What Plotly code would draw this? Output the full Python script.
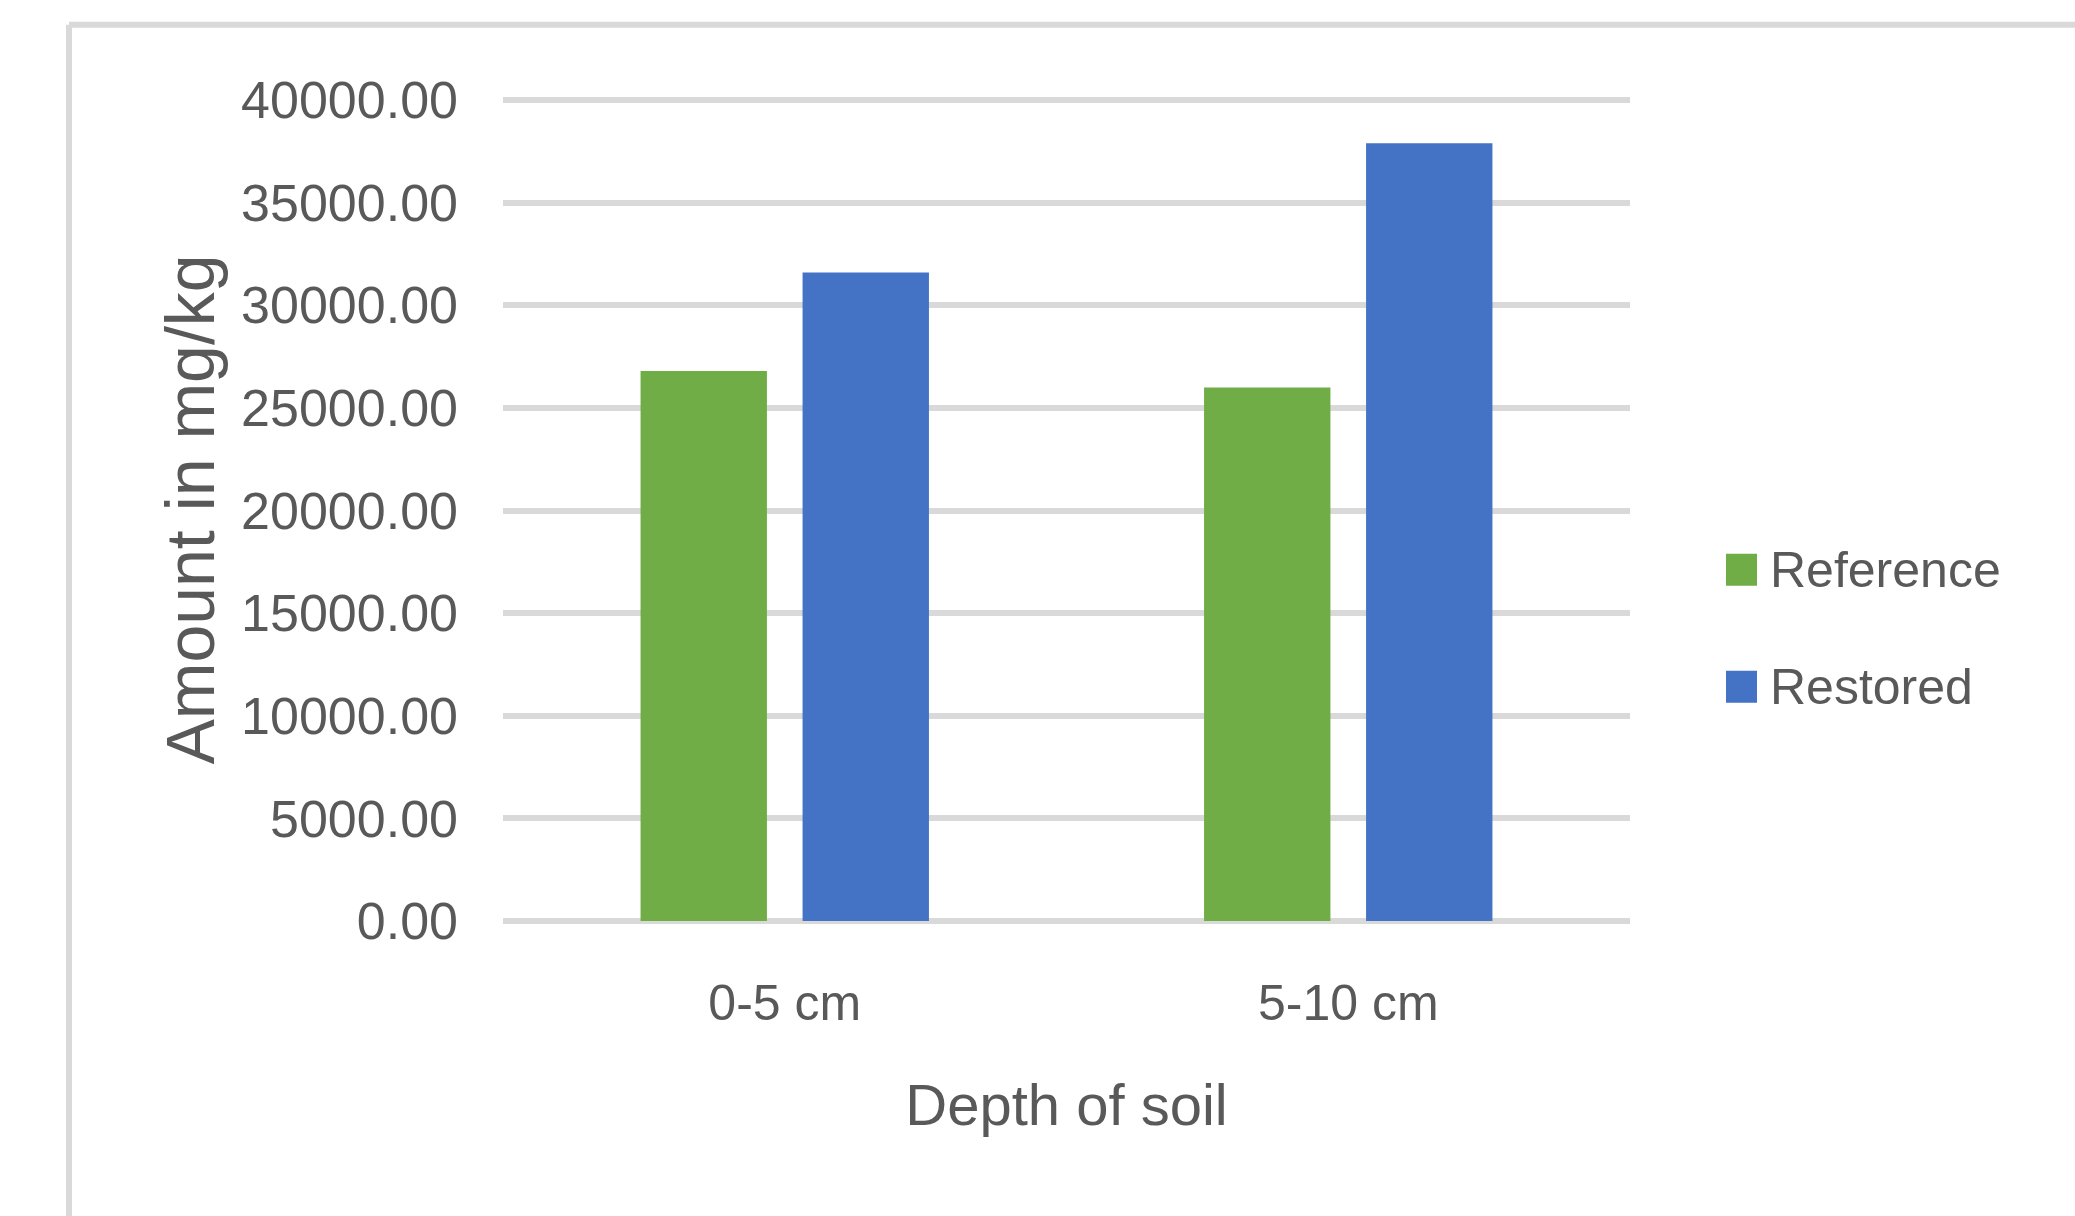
import plotly.graph_objects as go

# Soil depth classes and measured amounts (mg/kg)
depths = ["0-5 cm", "5-10 cm"]
series_names = ["Reference", "Restored"]
reference_vals = [26800, 26000]
restored_vals = [31600, 37900]
y_ticks = [0, 5000, 10000, 15000, 20000, 25000, 30000, 35000, 40000]

colors = ["#70AD47", "#4472C4"]
text_color = "#595959"
grid_color = "#D9D9D9"
font_family = "Liberation Sans Narrow, Arial Narrow, Liberation Sans, sans-serif"

W, H = 2075, 1216
# plot area in pixels (top padded slightly so the 40000 gridline is drawn)
PL, PR, PT, PB = 503, 1630, 97.9, 921.5
Y_TOP = 40100


def px_x(p):
    return (p - PL) / (PR - PL)


def px_y(p):
    return (PB - p) / (PB - PT)


fig = go.Figure()
for name, vals, col in zip(series_names, [reference_vals, restored_vals], colors):
    fig.add_trace(go.Bar(x=depths, y=vals, name=name, marker=dict(color=col, line=dict(width=0)),
                         showlegend=False))

# outer chart frame (top and left edges visible)
shapes = [
    dict(type="line", xref="paper", yref="paper", x0=px_x(69), x1=px_x(2080), y0=px_y(24.5), y1=px_y(24.5),
         line=dict(color=grid_color, width=6), layer="below"),
    dict(type="line", xref="paper", yref="paper", x0=px_x(69), x1=px_x(69), y0=px_y(24.5), y1=px_y(1225),
         line=dict(color=grid_color, width=6), layer="below"),
]

# legend drawn as square swatches with labels
annotations = []
legend_rows = [570, 687]
for name, col, cy in zip(series_names, colors, legend_rows):
    shapes.append(dict(type="rect", xref="paper", yref="paper",
                       x0=px_x(1726), x1=px_x(1757), y0=px_y(cy - 16), y1=px_y(cy + 16),
                       fillcolor=col, line=dict(width=0)))
    annotations.append(dict(text=name, xref="paper", yref="paper", x=px_x(1768), y=px_y(cy),
                            xanchor="left", yanchor="middle", showarrow=False,
                            font=dict(size=50, color=text_color, family=font_family)))

fig.update_layout(
    width=W, height=H,
    margin=dict(l=PL, r=W - PR, t=PT, b=H - PB, autoexpand=False),
    paper_bgcolor="white", plot_bgcolor="white",
    barmode="group", bargap=0.425, bargroupgap=0.22,
    font=dict(family=font_family, color=text_color),
    shapes=shapes, annotations=annotations,
    xaxis=dict(
        title=dict(text="Depth of soil", font=dict(size=58, color=text_color), standoff=54),
        tickfont=dict(size=50, color=text_color),
        showgrid=False, showline=False, ticks="", ticklabelstandoff=48, automargin=False,
    ),
    yaxis=dict(
        title=dict(text="Amount in mg/kg", font=dict(size=68, color=text_color), standoff=4),
        range=[0, Y_TOP], tickvals=y_ticks, tickformat=".2f",
        tickfont=dict(size=52, color=text_color),
        showgrid=True, gridcolor=grid_color, gridwidth=6,
        zeroline=True, zerolinecolor=grid_color, zerolinewidth=6,
        showline=False, ticks="", ticklabelstandoff=44, automargin=False,
    ),
)

fig.write_html("out.html")
